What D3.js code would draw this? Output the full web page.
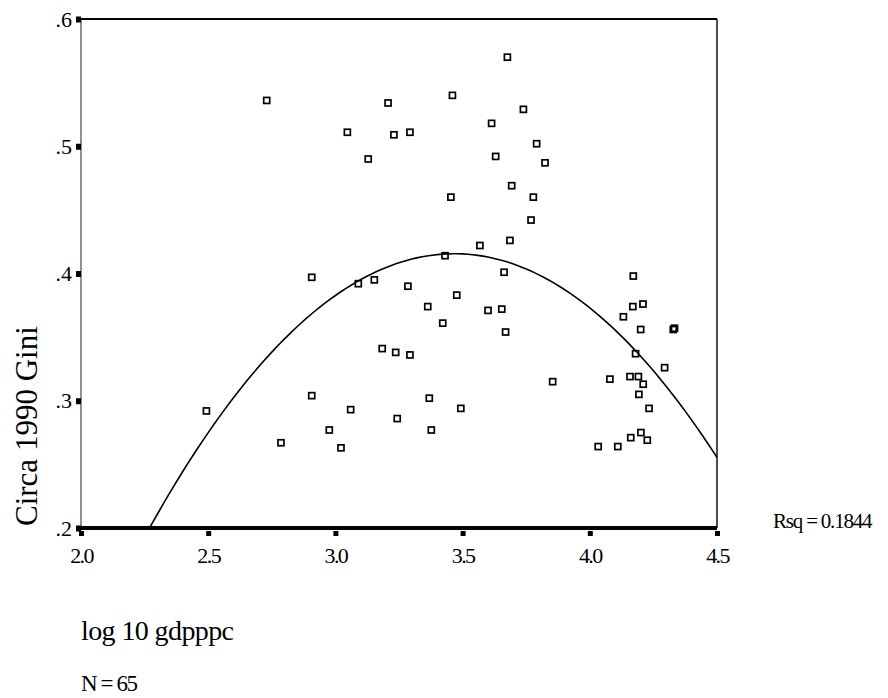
<!DOCTYPE html>
<html>
<head>
<meta charset="utf-8">
<script src="https://cdn.jsdelivr.net/npm/d3@7"></script>
<style>
  body { margin: 0; background: #fff; }
  text { font-family: "Liberation Serif", "Times New Roman", serif; fill: #000; }
</style>
</head>
<body>
<script>
// log10 gdp per capita vs circa 1990 Gini, 65 countries
const gdp = [
  3.676, 3.460, 3.207, 3.739, 3.047, 3.230, 3.293, 3.614, 3.791, 3.129,
  3.630, 3.824, 3.693, 3.778, 3.454, 3.769, 3.686, 3.568, 3.431, 2.730,
  2.907, 3.090, 3.153, 3.285, 3.663, 3.477, 3.363, 3.422, 3.600, 3.654,
  3.669, 3.184, 3.237, 3.293, 3.854, 2.907, 3.369, 3.060, 3.493, 3.243,
  2.976, 3.377, 3.022, 2.786, 2.493, 4.171, 4.169, 4.209, 4.132, 4.200,
  4.328, 4.333, 4.180, 4.294, 4.079, 4.158, 4.191, 4.210, 4.193, 4.233,
  4.033, 4.110, 4.161, 4.201, 4.226
];
const gini = [
  0.570, 0.540, 0.534, 0.529, 0.511, 0.509, 0.511, 0.518, 0.502, 0.490,
  0.492, 0.487, 0.469, 0.460, 0.460, 0.442, 0.426, 0.422, 0.414, 0.536,
  0.397, 0.392, 0.395, 0.390, 0.401, 0.383, 0.374, 0.361, 0.371, 0.372,
  0.354, 0.341, 0.338, 0.336, 0.315, 0.304, 0.302, 0.293, 0.294, 0.286,
  0.277, 0.277, 0.263, 0.267, 0.292, 0.398, 0.374, 0.376, 0.366, 0.356,
  0.356, 0.357, 0.337, 0.326, 0.317, 0.319, 0.319, 0.313, 0.305, 0.294,
  0.264, 0.264, 0.271, 0.275, 0.269
];
const xTicks = [2.0, 2.5, 3.0, 3.5, 4.0, 4.5];
const yTicks = [0.2, 0.3, 0.4, 0.5, 0.6];
const rsqLabel = "Rsq = 0.1844";

const W = 888, H = 698;
const m = {left: 81, right: 717, top: 19, bottom: 528};

const svg = d3.select("body").append("svg")
    .attr("width", W)
    .attr("height", H);

const x = d3.scaleLinear().domain([2, 4.5]).range([m.left, m.right]);
const y = d3.scaleLinear().domain([0.2, 0.6]).range([m.bottom, m.top]);

// quadratic least squares fit gini ~ b0 + b1*x + b2*x^2
function quadFit(xs, ys) {
  const s = [0, 0, 0, 0, 0], t = [0, 0, 0];
  xs.forEach((v, i) => {
    let p = 1;
    for (let k = 0; k < 5; k++) { s[k] += p; if (k < 3) t[k] += p * ys[i]; p *= v; }
  });
  const A = [[s[0], s[1], s[2], t[0]], [s[1], s[2], s[3], t[1]], [s[2], s[3], s[4], t[2]]];
  for (let i = 0; i < 3; i++) {
    for (let j = i + 1; j < 3; j++) {
      const f = A[j][i] / A[i][i];
      for (let k = i; k < 4; k++) A[j][k] -= f * A[i][k];
    }
  }
  const b = [0, 0, 0];
  for (let i = 2; i >= 0; i--) {
    let v = A[i][3];
    for (let k = i + 1; k < 3; k++) v -= A[i][k] * b[k];
    b[i] = v / A[i][i];
  }
  return b;
}
const b = quadFit(gdp, gini);
const fit = v => b[0] + b[1] * v + b[2] * v * v;

svg.append("clipPath").attr("id", "plot")
  .append("rect")
    .attr("x", m.left).attr("y", m.top)
    .attr("width", m.right - m.left).attr("height", m.bottom - m.top);

// frame
svg.append("line").attr("x1", m.left).attr("x2", m.left).attr("y1", m.top).attr("y2", m.bottom)
    .attr("stroke", "#555").attr("stroke-width", 1.3);
svg.append("line").attr("x1", m.right).attr("x2", m.right).attr("y1", m.top).attr("y2", m.bottom)
    .attr("stroke", "#111").attr("stroke-width", 1.5);
svg.append("line").attr("x1", m.left).attr("x2", m.right).attr("y1", m.top).attr("y2", m.top)
    .attr("stroke", "#000").attr("stroke-width", 2);

// fitted curve
const xs = d3.range(2, 4.5001, 0.02);
svg.append("path")
    .datum(xs)
    .attr("clip-path", "url(#plot)")
    .attr("fill", "none")
    .attr("stroke", "#000")
    .attr("stroke-width", 1.6)
    .attr("d", d3.line().x(d => x(d)).y(d => y(fit(d))));

// points
svg.append("g").selectAll("rect")
    .data(gdp.map((d, i) => [d, gini[i]]))
    .enter().append("rect")
    .attr("x", d => x(d[0]) - 3)
    .attr("y", d => y(d[1]) - 3)
    .attr("width", 6)
    .attr("height", 6)
    .attr("fill", "none")
    .attr("stroke", "#000")
    .attr("stroke-width", 1.7);

// axes
const yAxis = svg.append("g")
    .attr("transform", `translate(${m.left},0)`)
    .call(d3.axisLeft(y).tickValues(yTicks).tickSize(5).tickPadding(4)
      .tickFormat(d => d3.format(".1f")(d).replace(/^0/, "")));
yAxis.select(".domain").remove();
yAxis.selectAll(".tick line").attr("stroke", "#000").attr("stroke-width", 6);
yAxis.selectAll(".tick text")
    .style("font-size", "22px")
    .style("font-family", "Liberation Serif");

const xAxis = svg.append("g")
    .attr("transform", `translate(0,${m.bottom + 3})`)
    .call(d3.axisBottom(x).tickValues(xTicks).tickSize(5).tickPadding(11)
      .tickFormat(d3.format(".1f")));
xAxis.select(".domain").remove();
xAxis.selectAll(".tick line").attr("stroke", "#000").attr("stroke-width", 5);
xAxis.selectAll(".tick text")
    .style("font-size", "22px")
    .style("font-family", "Liberation Serif")
    .style("letter-spacing", "-1.6px");

// thick bottom axis line
svg.append("line").attr("x1", m.left - 3).attr("x2", m.right).attr("y1", m.bottom).attr("y2", m.bottom)
    .attr("stroke", "#000").attr("stroke-width", 4);

// labels
svg.append("text")
    .attr("transform", `translate(37,${m.bottom - 2}) rotate(-90)`)
    .attr("text-anchor", "start")
    .style("font-size", "31px")
    .text("Circa 1990 Gini");

svg.append("text")
    .attr("x", 773).attr("y", 528)
    .style("font-size", "21px")
    .style("letter-spacing", "-1.2px")
    .text(rsqLabel);

svg.append("text")
    .attr("x", m.left).attr("y", 640)
    .style("font-size", "28px")
    .style("letter-spacing", "-0.6px")
    .text("log 10 gdpppc");

svg.append("text")
    .attr("x", m.left).attr("y", 691)
    .style("font-size", "23px")
    .style("letter-spacing", "-1.4px")
    .text("N = 65");
</script>
</body>
</html>
